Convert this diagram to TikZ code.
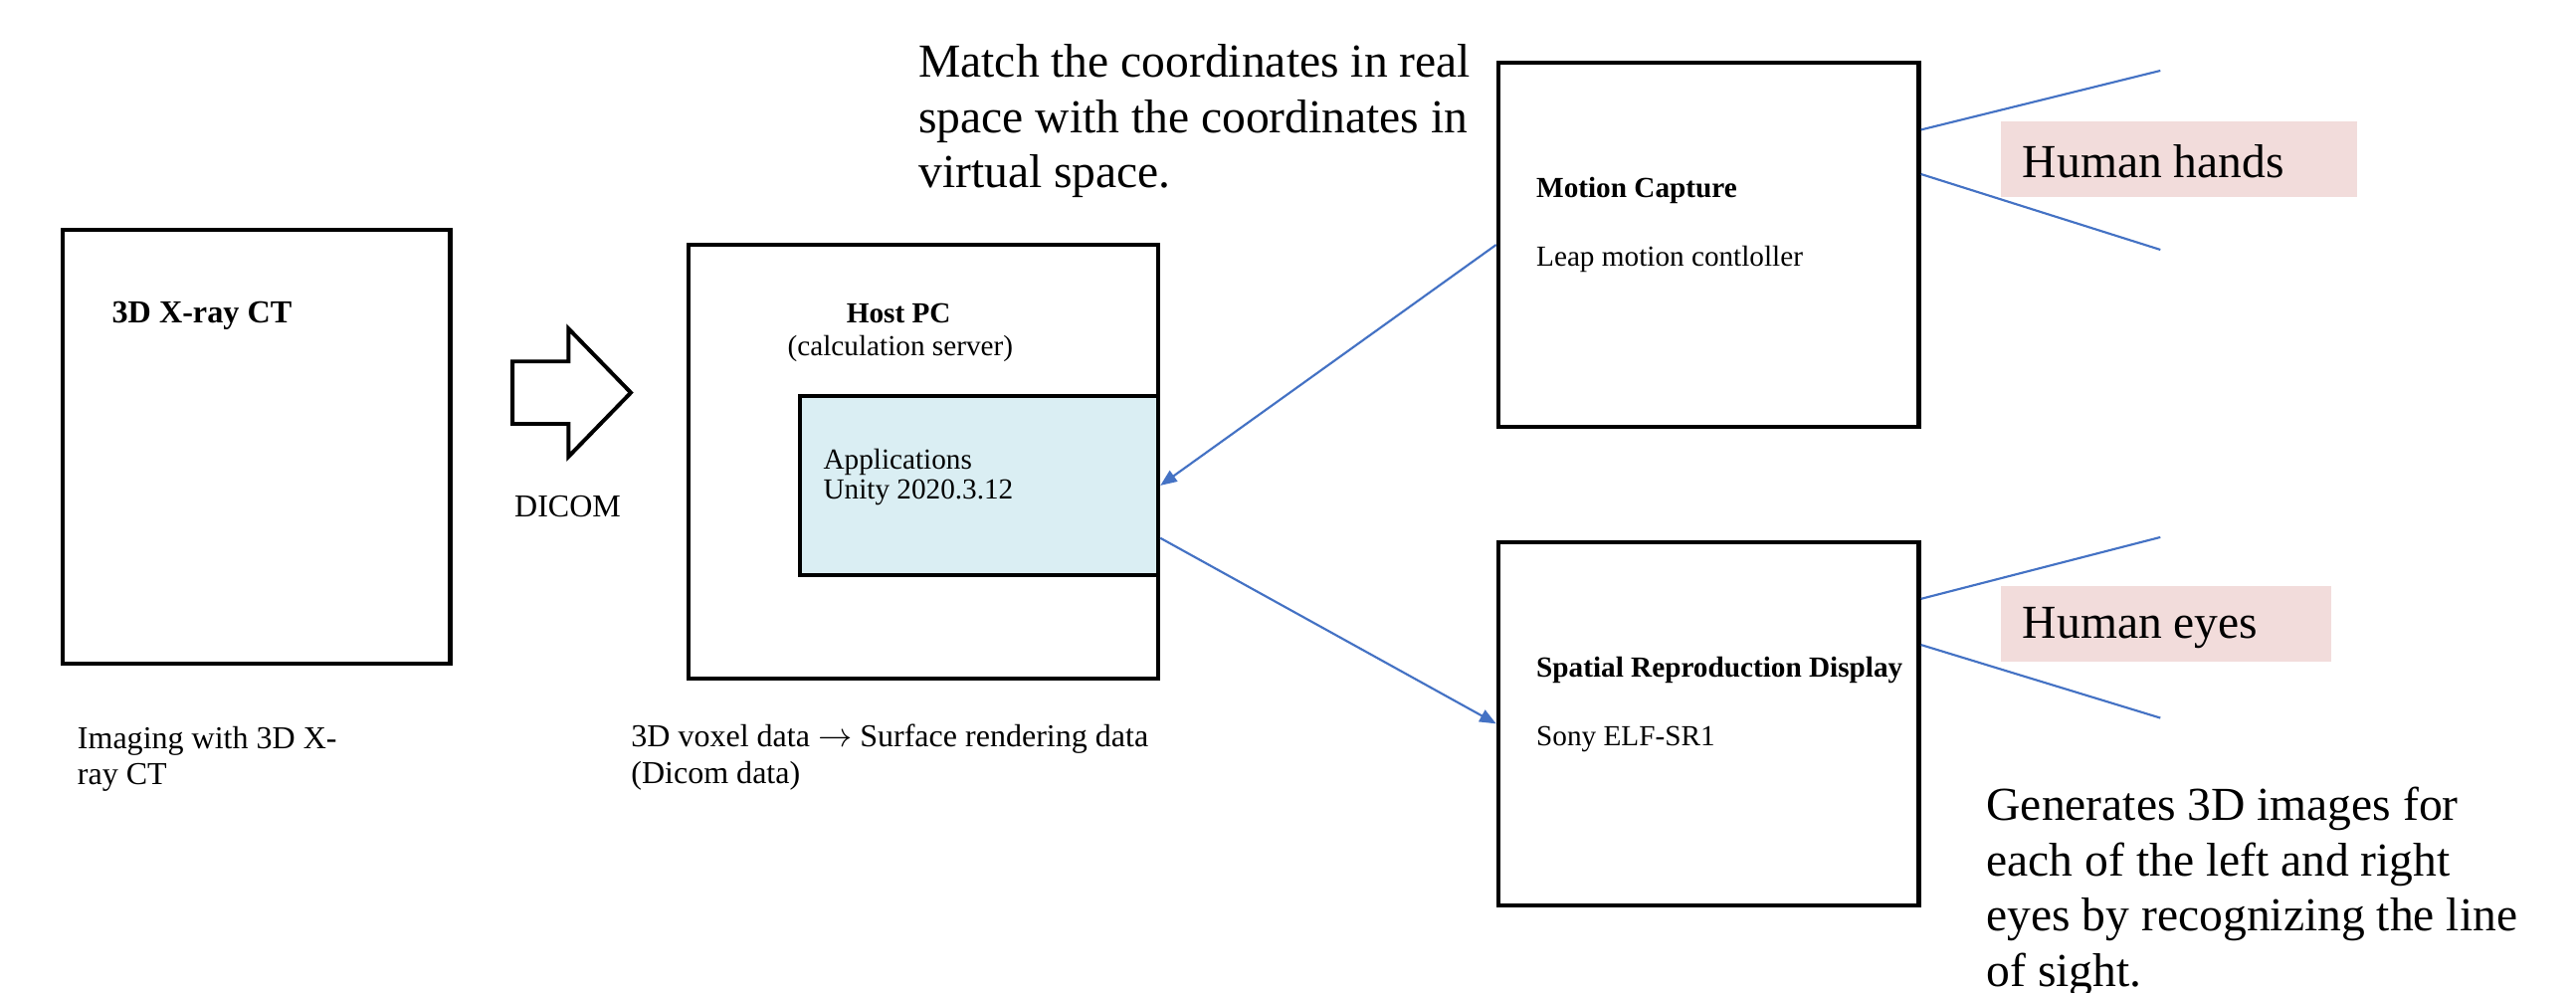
\documentclass[tikz,border=0pt]{standalone}
\usepackage{fontspec}
\setmainfont{Liberation Serif}
\usetikzlibrary{arrows.meta,calc}
\definecolor{lblue}{HTML}{DAEEF3}
\definecolor{lpink}{HTML}{F2DCDB}
\definecolor{lineblue}{HTML}{4472C4}
\tikzset{
  box/.style={draw, line width=2.6pt, inner sep=0pt},
  small/.style={font=\fontsize{17.7}{20}\selectfont, inner sep=0pt, anchor=west},
  caption/.style={font=\fontsize{19.4}{22}\selectfont, inner sep=0pt, anchor=west},
  smallb/.style={font=\bfseries\fontsize{17.7}{20}\selectfont, inner sep=0pt, anchor=west},
  big/.style={font=\fontsize{28.8}{33.6}\selectfont, inner sep=0pt, anchor=north west, align=left},
  conn/.style={lineblue, line width=1.3pt},
  arr/.style={conn, -{Triangle[length=10pt,width=8pt]}},
}
\begin{document}
\begin{tikzpicture}[x=1pt,y=-1pt]
\useasboundingbox (0,0) rectangle (1568,604);
% boxes
\node[box, minimum width=236, minimum height=264] (ct) at (156,272) {};
\node[box, minimum width=286, minimum height=264] (host) at (562,281) {};
\node[box, fill=lblue, minimum width=218, minimum height=109] (app) at (596,295.5) {};
\node[box, minimum width=256, minimum height=222] (mc) at (1040,149) {};
\node[box, minimum width=256, minimum height=221] (sp) at (1040,440.5) {};
\node[fill=lpink, minimum width=217, minimum height=46, inner sep=0pt] (hands) at (1326.5,97) {};
\node[fill=lpink, minimum width=201, minimum height=46, inner sep=0pt] (eyes) at (1318.5,380) {};
% block arrow
\draw[line width=2.4pt, line join=miter] (312,220) -- (346,220) -- (346,200) -- (384,239) -- (346,278) -- (346,258) -- (312,258) -- cycle;
% texts
\node[smallb, font=\bfseries\fontsize{19.5}{22}\selectfont] (ctt) at (68,192) {3D X-ray CT};
\node[caption] (ct1) at (47,451) {Imaging with 3D X-};
\node[caption] (ct2) at (47,473) {ray CT};
\node[caption] (dicom) at (313,308) {DICOM};
\node[smallb, anchor=center] (hostt) at (547,191) {Host PC};
\node[small, anchor=center] (hosts) at (548,212) {(calculation server)};
\node[small] (app1) at (501,281) {Applications};
\node[small] (app2) at (501,300) {Unity 2020.3.12};
\node[caption] (vox1) at (384,450) {3D voxel data $\rightarrow$ Surface rendering data};
\node[caption] (vox2) at (384,472) {(Dicom data)};
\node[big] (match) at (559,27) {Match the coordinates in real\\space with the coordinates in\\virtual space.};
\node[smallb] (mct) at (935,116) {Motion Capture};
\node[small] (mcs) at (935,158) {Leap motion contloller};
\node[smallb] (spt) at (935,408) {Spatial Reproduction Display};
\node[small] (sps) at (935,450) {Sony ELF-SR1};
\node[font=\fontsize{28.8}{34}\selectfont, inner sep=0pt, anchor=west] (handst) at (1231,98) {Human hands};
\node[font=\fontsize{28.8}{34}\selectfont, inner sep=0pt, anchor=west] (eyest) at (1231,382) {Human eyes};
\node[big] (gen) at (1209,479) {Generates 3D images for\\each of the left and right\\eyes by recognizing the line\\of sight.};
% free ends
\coordinate (h1) at (1315,43);
\coordinate (h2) at (1315,152);
\coordinate (e1) at (1315,327);
\coordinate (e2) at (1315,437);
% connectors
\draw[arr] (mc.west) -- (app.east);
\draw[arr] ([yshift=-32pt]app.east) -- (sp.west);
\draw[conn] ([yshift=70pt]mc.east) -- (h1);
\draw[conn] ([yshift=43pt]mc.east) -- (h2);
\draw[conn] ([yshift=76pt]sp.east) -- (e1);
\draw[conn] ([yshift=48pt]sp.east) -- (e2);
\end{tikzpicture}
\end{document}
